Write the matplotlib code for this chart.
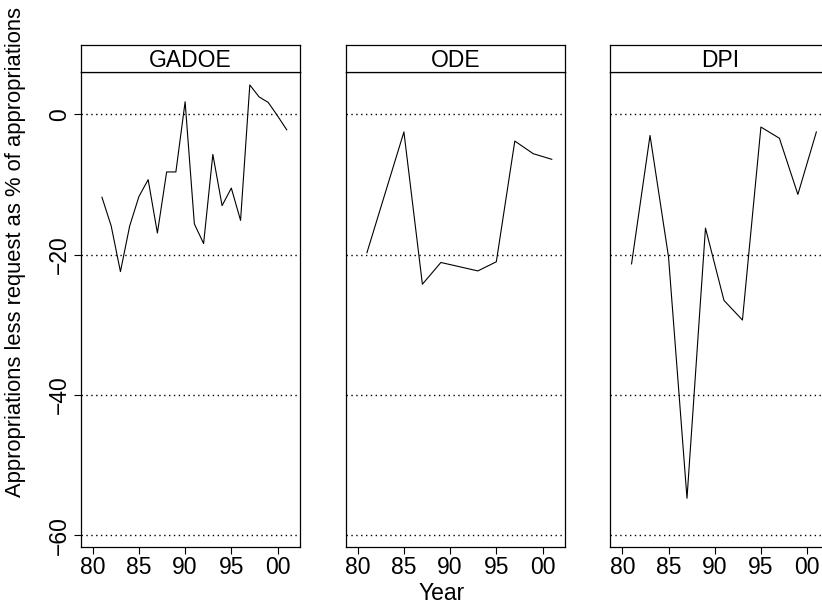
import numpy as np
import matplotlib
matplotlib.use("Agg")
import matplotlib.pyplot as plt

plt.rcParams['font.family'] = ['Liberation Sans', 'DejaVu Sans']

# values
agencies = ["GADOE", "ODE", "DPI"]

gadoe_years = [1981, 1982, 1983, 1984, 1985, 1986, 1987, 1988, 1989, 1990,
               1991, 1992, 1993, 1994, 1995, 1996, 1997, 1998, 1999, 2000, 2001]
gadoe_pct = [-11.8, -15.9, -22.4, -15.9, -11.7, -9.3, -16.9, -8.2, -8.2, 1.8,
             -15.6, -18.4, -5.7, -13.0, -10.5, -15.1, 4.2, 2.5, 1.7, -0.2, -2.2]

ode_years = [1981, 1985, 1987, 1989, 1993, 1995, 1997, 1999, 2001]
ode_pct = [-19.7, -2.5, -24.2, -21.1, -22.3, -21.0, -3.8, -5.6, -6.4]

dpi_years = [1981, 1983, 1985, 1987, 1989, 1991, 1993, 1995, 1997, 1999, 2001]
dpi_pct = [-21.3, -3.0, -20.3, -54.7, -16.2, -26.5, -29.3, -1.8, -3.4, -11.4, -2.5]

series = [(gadoe_years, gadoe_pct), (ode_years, ode_pct), (dpi_years, dpi_pct)]

x_ticks = [1980, 1985, 1990, 1995, 2000]
x_labels = ["80", "85", "90", "95", "00"]
y_ticks = [0, -20, -40, -60]
y_labels = ["0", "\u221220", "\u221240", "\u221260"]

W, H = 822, 609
fig = plt.figure(figsize=(W / 100, H / 100), dpi=100)

lefts = [80.7, 345.7, 610.3]
pw = 219.0
top_px, bot_px, strip_top_px = 72.3, 546.7, 44.7
fs = 16.5

for i, (name, (yrs, vals)) in enumerate(zip(agencies, series)):
    ax = fig.add_axes([lefts[i] / W, 1 - bot_px / H, pw / W, (bot_px - top_px) / H])
    for h in y_ticks:
        ax.axhline(h, color="black", lw=1.0, linestyle=(0, (1, 2.5)), zorder=1)
    ax.plot(yrs, vals, color="black", lw=0.8, zorder=2)
    ax.set_xlim(1978.7, 2002.4)
    ax.set_ylim(-61.6, 6.0)
    ax.set_xticks(x_ticks)
    ax.set_xticklabels(x_labels, fontsize=fs)
    ax.tick_params(direction="out", length=5, width=0.8, pad=2)
    for s in ax.spines.values():
        s.set_linewidth(0.9)
    if i == 0:
        ax.set_yticks(y_ticks)
        ax.set_yticklabels(y_labels, fontsize=fs, rotation=90, va="center")
    else:
        ax.set_yticks([])

    # strip with panel name
    sax = fig.add_axes([lefts[i] / W, 1 - top_px / H, pw / W, (top_px - strip_top_px) / H])
    sax.set_xticks([])
    sax.set_yticks([])
    for s in sax.spines.values():
        s.set_linewidth(0.9)
    sax.text(0.5, 0.42, name, ha="center", va="center", fontsize=fs, transform=sax.transAxes)

fig.text(16 / W, 1 - 252 / H, "Appropriations less request as % of appropriations",
         rotation=90, ha="center", va="center", fontsize=15.8)
fig.text(442 / W, 1 - 594 / H, "Year", ha="center", va="center", fontsize=fs)

fig.savefig("out.png", dpi=100)
